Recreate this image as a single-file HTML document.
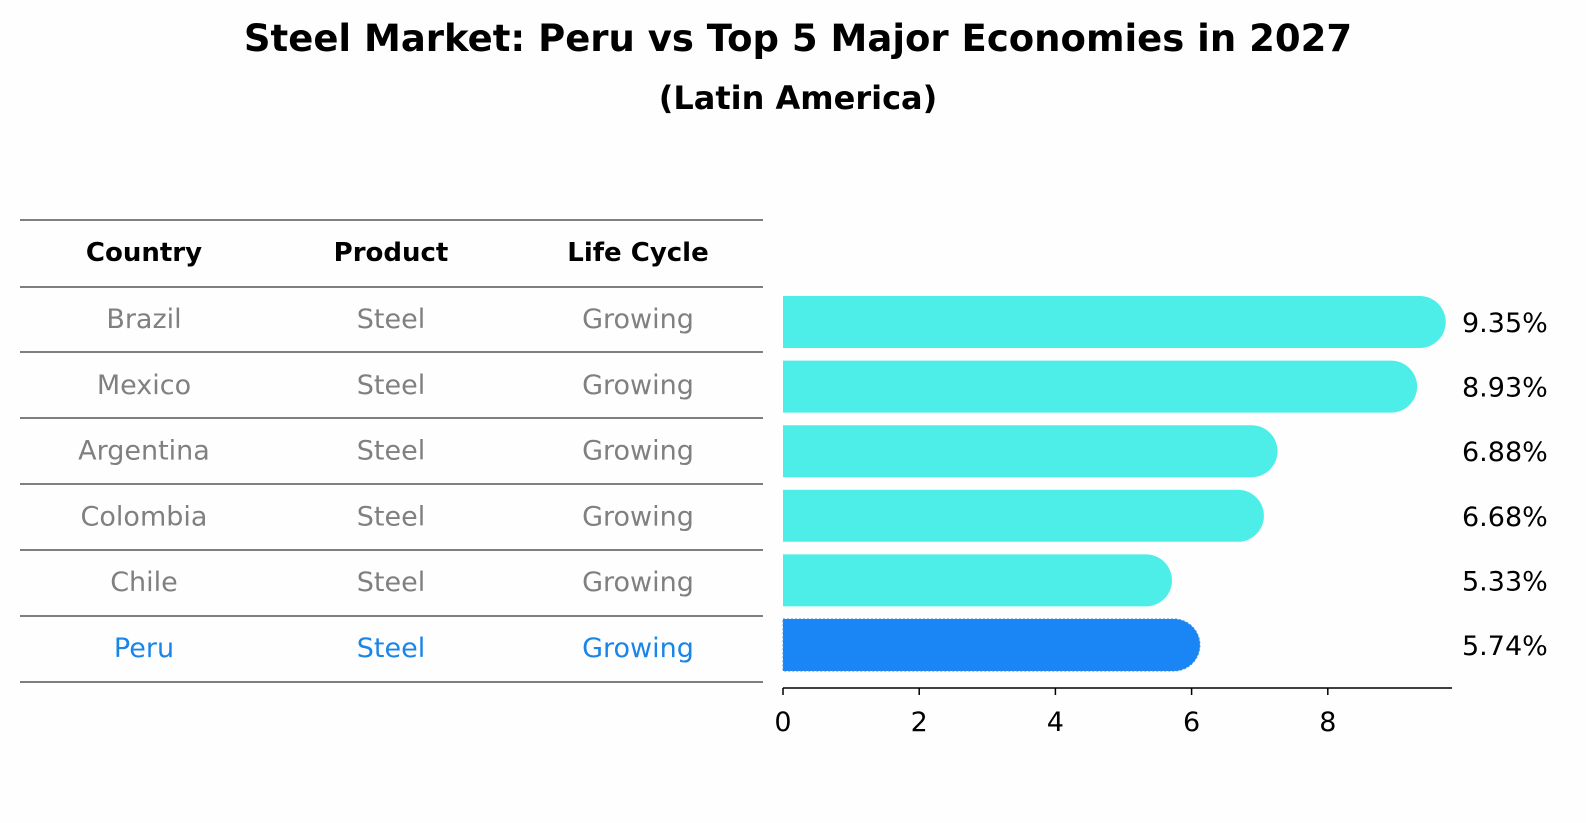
<!DOCTYPE html>
<html><head><meta charset="utf-8"><style>
body{margin:0;background:#fff;}
svg{display:block;font-family:"DejaVu Sans","Liberation Sans",sans-serif;}
</style></head><body>
<svg id="c" width="1586" height="823" viewBox="0 0 1586 823">
<rect width="1586" height="823" fill="#fefefe"/>
<text x="798" y="51" text-anchor="middle" font-size="37" font-weight="bold">Steel Market: Peru vs Top 5 Major Economies in 2027</text>
<text x="798" y="109" text-anchor="middle" font-size="32" font-weight="bold">(Latin America)</text>
<g id="tbl"></g>
<g id="bars"></g>
</svg>
<script>
const countries=["Brazil","Mexico","Argentina","Colombia","Chile","Peru"];
const products=["Steel","Steel","Steel","Steel","Steel","Steel"];
const cycles=["Growing","Growing","Growing","Growing","Growing","Growing"];
const values=[9.35,8.93,6.88,6.68,5.33,5.74];
const ticks=[0,2,4,6,8];
const NS="http://www.w3.org/2000/svg";
function mk(p,t,a){const e=document.createElementNS(NS,t);for(const k in a)e.setAttribute(k,a[k]);p.appendChild(e);return e;}
const x=v=>783+v*68.1;
const rowY=i=>322+i*64.6;
const tbl=document.getElementById('tbl');
const lines=[220,287,352,418,484,550,616,682];
lines.forEach(y=>{const l=mk(tbl,'line',{x1:20,x2:763,y1:y,y2:y,stroke:'#000','stroke-width':1});

});
const cols=[144,391,638];
["Country","Product","Life Cycle"].forEach((h,j)=>{const t=mk(tbl,'text',{x:cols[j],y:261,'text-anchor':'middle','font-size':26,'font-weight':'bold'});t.textContent=h;

});
countries.forEach((c,i)=>{const col=c==="Peru"?"#1a85e8":"#808080";
[c,products[i],cycles[i]].forEach((s,j)=>{const t=mk(tbl,'text',{x:cols[j],y:328+i*65.8,'text-anchor':'middle','font-size':27,fill:col});t.textContent=s;

});});
const g=document.getElementById('bars');
values.forEach((v,i)=>{const cy=rowY(i),h=52,r=26;const x0=x(0),x1=x(v);
const peru=countries[i]==="Peru";
const col=peru?"#1a85f5":"#4deee8";
const p=mk(g,'path',{d:`M${x0},${cy-h/2}H${x1}A${r},${r} 0 0 1 ${x1},${cy+h/2}H${x0}Z`,fill:col});
if(peru){p.setAttribute('stroke','#3a8fd8');p.setAttribute('stroke-dasharray','2 2');p.setAttribute('stroke-width','1');}


const t=mk(g,'text',{x:1462,y:cy+10,'font-size':27});t.textContent=v.toFixed(2)+'%';

});
const ax=mk(g,'line',{x1:783,x2:1452,y1:688,y2:688,stroke:'#000','stroke-width':1.5});


ticks.forEach(v=>{const tk=mk(g,'line',{x1:x(v),x2:x(v),y1:688,y2:695,stroke:'#000','stroke-width':1.5});


const t=mk(g,'text',{x:x(v),y:731,'text-anchor':'middle','font-size':27});t.textContent=v;

});
</script>
</body></html>
